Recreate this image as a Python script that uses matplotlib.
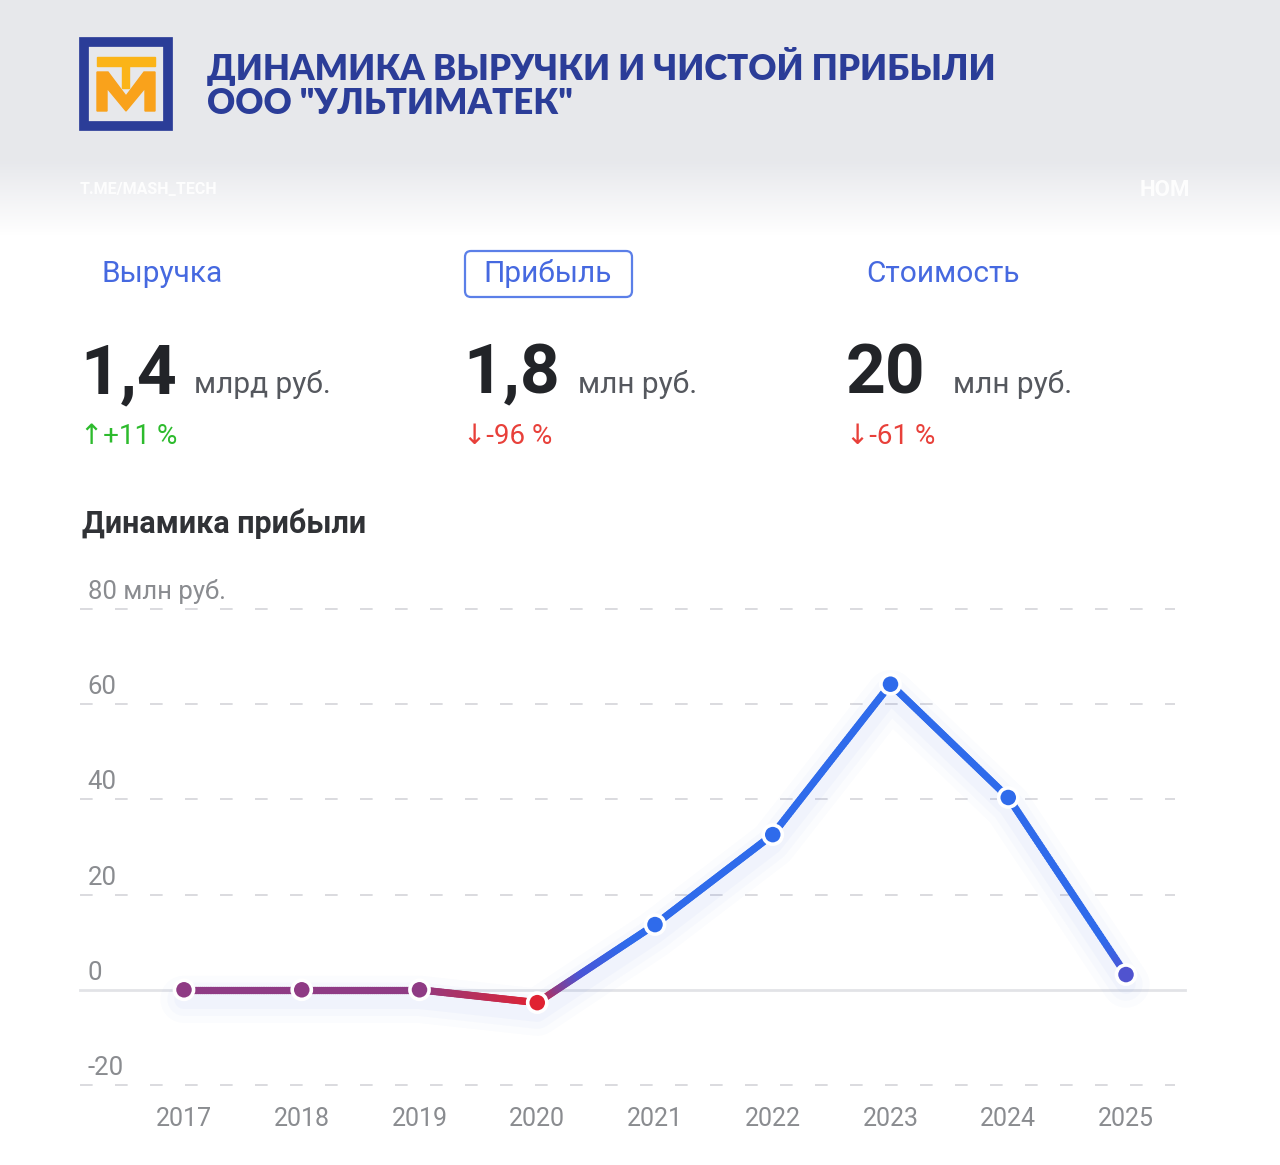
import numpy as np
import matplotlib.pyplot as plt
from matplotlib.collections import LineCollection
from matplotlib.colors import LinearSegmentedColormap
from matplotlib.patches import FancyBboxPatch, Rectangle, Polygon
import matplotlib.transforms as mtransforms

# --- data ---
years = [2017, 2018, 2019, 2020, 2021, 2022, 2023, 2024, 2025]
profit = [0.0, 0.0, 0.0, -2.7, 13.7, 32.6, 64.2, 40.4, 3.2]
y_ticks = [-20, 0, 20, 40, 60, 80]
y_tick_labels = ["-20", "0", "20", "40", "60", "80 млн руб."]

tabs = ["Выручка", "Прибыль", "Стоимость"]
big_values = ["1,4", "1,8", "20"]
big_units = ["млрд руб.", "млн руб.", "млн руб."]
changes = ["↑+11 %", "↓-96 %", "↓-61 %"]
change_colors = ["#2dbb2d", "#e8403a", "#e8403a"]

W, H = 1280, 1165
fig = plt.figure(figsize=(W / 100, H / 100), dpi=100)
FONT = ["Roboto", "DejaVu Sans"]


def px(x, y):
    return x / W, 1 - y / H


# background: grey header fading into white
bg = fig.add_axes([0, 0, 1, 1], zorder=-10)
rows = np.arange(H)
shade = np.where(rows < 160, 0.0, np.clip((rows - 160) / 75, 0, 1))
top = np.array([0.906, 0.910, 0.925])
col = top[None, :] * (1 - shade[:, None]) + shade[:, None]
bg.imshow(np.repeat(col[:, None, :], 4, axis=1), aspect="auto", extent=[0, W, H, 0])
bg.set_xlim(0, W)
bg.set_ylim(H, 0)
bg.axis("off")

# logo
bg.add_patch(Rectangle((84, 42), 84, 84, fill=False, ec="#2b3d98", lw=7))
bg.add_patch(Rectangle((97, 57), 58, 9, color="#fbb418"))
bg.add_patch(Polygon([(97, 72), (108, 72), (126, 96), (144, 72), (155, 72), (155, 111),
                      (145, 111), (145, 88), (126, 111), (107, 88), (107, 111), (97, 111)],
                     closed=True, color="#f9a21b"))
bg.add_patch(Rectangle((122, 66), 7, 22, color="#fbb418"))

# title
fig.text(*px(207, 67), "ДИНАМИКА ВЫРУЧКИ И ЧИСТОЙ ПРИБЫЛИ", fontsize=25,
         fontweight="heavy", color="#2b3d98", va="center", family=["Lato", "DejaVu Sans"])
fig.text(*px(207, 104), 'ООО "УЛЬТИМАТЕК"', fontsize=25,
         fontweight="heavy", color="#2b3d98", va="center", family=["Lato", "DejaVu Sans"])

# watermarks
fig.text(*px(80, 189), "T.ME/MASH_TECH", fontsize=11.5, fontweight="bold", color="white",
         alpha=0.9, va="center", family=FONT)
fig.text(*px(1140, 190), "НОМ", fontsize=16, fontweight="bold", color="white",
         alpha=0.9, va="center", family=FONT)

# tabs
tab_x = [102, 548, 866]
for i, t in enumerate(tabs):
    ha = "center" if i == 1 else "left"
    fig.text(*px(tab_x[i], 274), t, fontsize=21.5, color="#4669e0", ha=ha, va="center",
             family=FONT)
bg.add_patch(FancyBboxPatch((465, 251), 167, 46, boxstyle="round,pad=0,rounding_size=6",
                            fill=False, ec="#5b7fe8", lw=1.6))

# headline numbers
num_x = [80, 463, 846]
unit_x = [194, 578, 953]
for i in range(3):
    fig.text(*px(num_x[i], 393), big_values[i], fontsize=50, fontweight="bold",
             color="#222428", va="baseline", family=FONT)
    fig.text(*px(unit_x[i], 393), big_units[i], fontsize=21.5, color="#55585e",
             va="baseline", family=FONT)
    fig.text(*px(num_x[i], 437), changes[i], fontsize=20, color=change_colors[i],
             va="center", family=FONT)

fig.text(*px(82, 524), "Динамика прибыли", fontsize=22, fontweight="bold",
         color="#303236", va="center", family=FONT)

# chart axes
x0, x1 = 80, 1185
yt, yb = 609, 1085
ax = fig.add_axes([x0 / W, 1 - yb / H, (x1 - x0) / W, (yb - yt) / H])
step = (1126 - 184) / 8
ax.set_xlim(2017 - (184 - x0) / step, 2025 + (x1 - 1126) / step)
ax.set_ylim(-20, 80)
ax.patch.set_alpha(0)
for s in ax.spines.values():
    s.set_visible(False)
ax.set_yticks([])
ax.set_xticks(years)
ax.set_xticklabels([str(y) for y in years], fontsize=18, color="#8a8c90", family=FONT)
ax.tick_params(axis="x", length=0, pad=16)

for v in y_ticks:
    if v == 0:
        ax.plot([2016.12, 2025.5], [0, 0], color="#e2e3e7", lw=2, zorder=1, clip_on=False)
    else:
        ax.plot([2016.12, 2025.42], [v, v], color="#dadbdf", lw=1.4, dashes=(6.5, 11.5),
                zorder=1, clip_on=False)

label_tr = mtransforms.offset_copy(ax.get_yaxis_transform(), fig=fig, x=0, y=17, units="dots")
for v, lab in zip(y_ticks, y_tick_labels):
    ax.text(0.007, v, lab, transform=label_tr, fontsize=18.5, color="#8a8c90",
            va="center", ha="left", family=FONT)

# gradient line coloured by value
cmap = LinearSegmentedColormap.from_list(
    "profit", [(0.0, "#e8202a"), (0.23, "#8f3b84"), (0.5, "#4a55d6"), (1.0, "#2f6beb")])
vmin, vmax = -3, 10

xs, ys = [], []
for i in range(len(years) - 1):
    t = np.linspace(0, 1, 60, endpoint=False)
    xs.append(years[i] + (years[i + 1] - years[i]) * t)
    ys.append(profit[i] + (profit[i + 1] - profit[i]) * t)
xs = np.concatenate(xs + [[years[-1]]])
ys = np.concatenate(ys + [[profit[-1]]])

# soft glow under the line
for lw, a in [(34, 0.018), (24, 0.025), (14, 0.03)]:
    ax.plot(xs, ys - 2.0, color="#3a6cf0", lw=lw, alpha=a, solid_capstyle="round",
            zorder=2, clip_on=False)

pts = np.column_stack([xs, ys]).reshape(-1, 1, 2)
segs = np.concatenate([pts[:-1], pts[1:]], axis=1)
mid = (ys[:-1] + ys[1:]) / 2
lc = LineCollection(segs, cmap=cmap, norm=plt.Normalize(vmin, vmax), linewidths=5.2,
                    capstyle="round", zorder=3, clip_on=False)
lc.set_array(mid)
ax.add_collection(lc)

mcol = [cmap((v - vmin) / (vmax - vmin)) for v in profit]
ax.scatter(years, profit, s=190, c=mcol, edgecolors="white", linewidths=2.6, zorder=4,
           clip_on=False)

fig.savefig("out.png", dpi=100)
